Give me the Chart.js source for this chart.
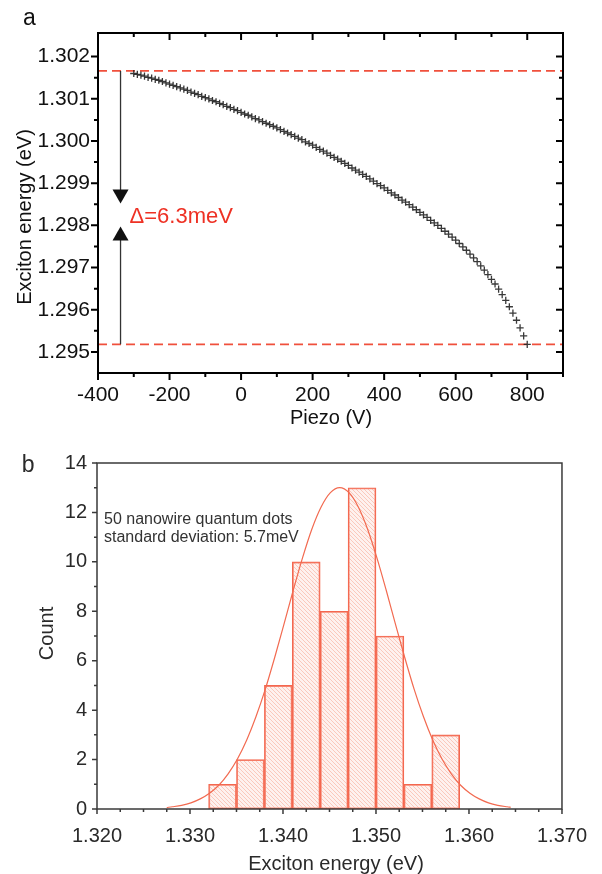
<!DOCTYPE html>
<html>
<head>
<meta charset="utf-8">
<script src="https://cdn.jsdelivr.net/npm/chart.js@4.4.1/dist/chart.umd.min.js"></script>
<style>
  body { margin: 0; background: #fff; }
  #wrap { position: relative; width: 602px; height: 874px; }
  canvas { position: absolute; left: 0; }
  #cA { top: 0; }
  #cB { top: 437px; }
</style>
</head>
<body>
<div id="wrap">
  <canvas id="cA" width="602" height="437"></canvas>
  <canvas id="cB" width="602" height="437"></canvas>
</div>
<script>
// ---- panel a : exciton energy vs piezo voltage ----
const piezoV = [
  -300,-290,-280,-270,-260,-250,-240,-230,-220,-210,
  -200,-190,-180,-170,-160,-150,-140,-130,-120,-110,
  -100,-90,-80,-70,-60,-50,-40,-30,-20,-10,
  0,10,20,30,40,50,60,70,80,90,
  100,110,120,130,140,150,160,170,180,190,
  200,210,220,230,240,250,260,270,280,290,
  300,310,320,330,340,350,360,370,380,390,
  400,410,420,430,440,450,460,470,480,490,
  500,510,520,530,540,550,560,570,580,590,
  600,610,620,630,640,650,660,670,680,690,
  700,710,720,730,740,750,760,770,780,790,
  800
];
const energyA = [
  1.30160,1.30158,1.30156,1.30154,1.30151,1.30149,1.30146,1.30144,1.30141,1.30138,
  1.30135,1.30132,1.30129,1.30126,1.30123,1.30120,1.30116,1.30113,1.30110,1.30106,
  1.30103,1.30100,1.30096,1.30093,1.30089,1.30086,1.30082,1.30079,1.30075,1.30072,
  1.30068,1.30064,1.30061,1.30057,1.30053,1.30050,1.30046,1.30042,1.30039,1.30035,
  1.30031,1.30027,1.30023,1.30019,1.30015,1.30011,1.30007,1.30003,1.29998,1.29994,
  1.29990,1.29985,1.29980,1.29976,1.29971,1.29966,1.29961,1.29957,1.29952,1.29947,
  1.29942,1.29936,1.29931,1.29926,1.29921,1.29916,1.29910,1.29905,1.29899,1.29894,
  1.29889,1.29883,1.29877,1.29872,1.29866,1.29860,1.29855,1.29849,1.29843,1.29837,
  1.29831,1.29825,1.29819,1.29812,1.29806,1.29800,1.29793,1.29786,1.29779,1.29772,
  1.29765,1.29757,1.29749,1.29741,1.29732,1.29723,1.29714,1.29704,1.29694,1.29683,
  1.29672,1.29661,1.29649,1.29636,1.29622,1.29607,1.29592,1.29575,1.29557,1.29538,
  1.29518
];
const levelTop = 1.30166;
const levelBottom = 1.29518;
const arrowV = -337;
const arrowDownTip = 1.29852;
const arrowUpTip = 1.29797;
const deltaText = 'Δ=6.3meV';

const xMajorA = [-400, -200, 0, 200, 400, 600, 800];
const xMinorA = [-300, -100, 100, 300, 500, 700, 900];
const yMajorA = [1.295, 1.296, 1.297, 1.298, 1.299, 1.300, 1.301, 1.302];
const yMinorA = [1.2955, 1.2965, 1.2975, 1.2985, 1.2995, 1.3005, 1.3015];

// ---- panel b : histogram of exciton energies ----
const binCenter = [1.3335, 1.3365, 1.3395, 1.3425, 1.3455, 1.3485, 1.3515, 1.3545, 1.3575];
const binCount = [1, 2, 5, 10, 8, 13, 7, 1, 3];
const fitE = [1.3275, 1.3281, 1.3291, 1.3301, 1.3311, 1.3321, 1.3331, 1.3341, 1.3351, 1.3361,
  1.3371, 1.3381, 1.3391, 1.3401, 1.3411, 1.3421, 1.3431, 1.3441, 1.3451, 1.3461,
  1.3471, 1.3481, 1.3491, 1.3501, 1.3511, 1.3521, 1.3531, 1.3541, 1.3551, 1.3561,
  1.3571, 1.3581, 1.3591, 1.3601, 1.3611, 1.3621, 1.3631, 1.3641, 1.3645];
const fitCount = [0.06, 0.09, 0.15, 0.25, 0.41, 0.64, 0.96, 1.42, 2.02, 2.79,
  3.74, 4.85, 6.12, 7.47, 8.85, 10.16, 11.32, 12.22, 12.80, 13.00,
  12.80, 12.22, 11.32, 10.16, 8.85, 7.47, 6.12, 4.85, 3.74, 2.79,
  2.02, 1.42, 0.96, 0.64, 0.41, 0.25, 0.15, 0.09, 0.07];
const noteLines = ['50 nanowire quantum dots', 'standard deviation: 5.7meV'];

const xMajorB = [1.32, 1.33, 1.34, 1.35, 1.36, 1.37];
const xMinorB = [1.3225, 1.325, 1.3275, 1.3325, 1.335, 1.3375, 1.3425, 1.345, 1.3475,
  1.3525, 1.355, 1.3575, 1.3625, 1.365, 1.3675];
const yMajorB = [0, 2, 4, 6, 8, 10, 12, 14];
const yMinorB = [1, 3, 5, 7, 9, 11, 13];

const FONT = "'Liberation Sans', Arial, Helvetica, sans-serif";

// frame, tick marks, axis titles and panel letter
const axesBox = {
  id: 'axesBox',
  afterDatasetsDraw(chart, args, o) {
    const ctx = chart.ctx, a = chart.chartArea;
    const sx = chart.scales.x, sy = chart.scales.y;
    ctx.save();
    ctx.strokeStyle = o.color;
    ctx.lineWidth = o.width;
    ctx.beginPath();
    const seg = (x1, y1, x2, y2) => { ctx.moveTo(x1, y1); ctx.lineTo(x2, y2); };
    const xt = (vals, len) => vals.forEach(v => {
      const p = sx.getPixelForValue(v);
      seg(p, a.bottom, p, a.bottom + len);
      if (o.mirror) seg(p, a.top, p, a.top + len);
    });
    const yt = (vals, len) => vals.forEach(v => {
      const p = sy.getPixelForValue(v);
      seg(a.left - len, p, a.left, p);
      if (o.mirror) seg(a.right - len, p, a.right, p);
    });
    xt(o.xMajor, o.major); xt(o.xMinor, o.minor);
    yt(o.yMajor, o.major); yt(o.yMinor, o.minor);
    ctx.stroke();
    ctx.strokeRect(a.left, a.top, a.right - a.left, a.bottom - a.top);

    ctx.fillStyle = o.textColor;
    ctx.font = '20px ' + FONT;
    ctx.textAlign = 'center';
    ctx.textBaseline = 'alphabetic';
    ctx.fillText(o.xTitle, o.xTitlePos[0], o.xTitlePos[1]);
    ctx.save();
    ctx.translate(o.yTitlePos[0], o.yTitlePos[1]);
    ctx.rotate(-Math.PI / 2);
    ctx.fillText(o.yTitle, 0, 0);
    ctx.restore();

    ctx.textAlign = 'left';
    ctx.font = '23px ' + FONT;
    ctx.fillText(o.letter, o.letterPos[0], o.letterPos[1]);
    ctx.restore();
  }
};

const arrowsA = {
  id: 'arrowsA',
  afterDatasetsDraw(chart) {
    const ctx = chart.ctx;
    const sx = chart.scales.x, sy = chart.scales.y;
    const x = sx.getPixelForValue(arrowV);
    const yTop = sy.getPixelForValue(levelTop);
    const yBot = sy.getPixelForValue(levelBottom);
    const yDown = sy.getPixelForValue(arrowDownTip);
    const yUp = sy.getPixelForValue(arrowUpTip);
    const head = (y, dir) => {
      ctx.beginPath();
      ctx.moveTo(x, y);
      ctx.lineTo(x - 8, y - dir * 14);
      ctx.lineTo(x + 8, y - dir * 14);
      ctx.closePath();
      ctx.fill();
    };
    ctx.save();
    ctx.strokeStyle = '#333';
    ctx.fillStyle = '#111';
    ctx.lineWidth = 1.3;
    ctx.beginPath();
    ctx.moveTo(x, yTop); ctx.lineTo(x, yDown - 12);
    ctx.moveTo(x, yBot); ctx.lineTo(x, yUp + 12);
    ctx.stroke();
    head(yDown, 1);
    head(yUp, -1);
    ctx.fillStyle = '#ee3124';
    ctx.font = '22px ' + FONT;
    ctx.textAlign = 'left';
    ctx.textBaseline = 'alphabetic';
    ctx.fillText(deltaText, x + 9, (yDown + yUp) / 2 + 8);
    ctx.restore();
  }
};

const notesB = {
  id: 'notesB',
  afterDatasetsDraw(chart) {
    const ctx = chart.ctx, a = chart.chartArea;
    ctx.save();
    ctx.fillStyle = '#333';
    ctx.font = '16px ' + FONT;
    ctx.textAlign = 'left';
    ctx.textBaseline = 'alphabetic';
    ctx.fillText(noteLines[0], a.left + 7, a.top + 61);
    ctx.fillText(noteLines[1], a.left + 7, a.top + 79);
    ctx.restore();
  }
};

// light salmon diagonal hatch for the histogram bars
function makeHatch() {
  const c = document.createElement('canvas');
  c.width = 4; c.height = 4;
  const g = c.getContext('2d');
  g.fillStyle = 'rgba(252,215,205,0.35)';
  g.fillRect(0, 0, 4, 4);
  g.strokeStyle = 'rgba(246,150,128,0.75)';
  g.lineWidth = 0.6;
  g.beginPath();
  g.moveTo(-1, -1); g.lineTo(5, 5);
  g.moveTo(-1, 3); g.lineTo(1, 5);
  g.moveTo(3, -1); g.lineTo(5, 1);
  g.stroke();
  return g.createPattern(c, 'repeat');
}

const hidden = { display: false, drawTicks: false };

new Chart(document.getElementById('cA'), {
  type: 'scatter',
  data: {
    datasets: [{
      data: piezoV.map((v, i) => ({ x: v, y: energyA[i] })),
      pointStyle: 'cross',
      pointRadius: 3.6,
      borderWidth: 1.3,
      borderColor: 'rgba(35,35,35,0.9)',
      showLine: false
    }, {
      data: [{ x: -400, y: levelTop }, { x: 900, y: levelTop }],
      showLine: true, pointRadius: 0,
      borderColor: '#f0503c', borderWidth: 1.8, borderDash: [9, 5]
    }, {
      data: [{ x: -400, y: levelBottom }, { x: 900, y: levelBottom }],
      showLine: true, pointRadius: 0,
      borderColor: '#f0503c', borderWidth: 1.8, borderDash: [9, 5]
    }]
  },
  options: {
    responsive: false,
    animation: false,
    devicePixelRatio: 1,
    layout: { padding: { top: 33, right: 39, left: 0, bottom: 0 } },
    plugins: {
      legend: { display: false },
      tooltip: { enabled: false },
      axesBox: {
        color: '#000', width: 2, mirror: true, major: 7, minor: 4,
        xMajor: xMajorA, xMinor: xMinorA, yMajor: yMajorA, yMinor: yMinorA,
        textColor: '#111',
        xTitle: 'Piezo (V)', xTitlePos: [331, 424],
        yTitle: 'Exciton energy (eV)', yTitlePos: [31, 217],
        letter: 'a', letterPos: [23, 25]
      }
    },
    scales: {
      x: {
        type: 'linear', min: -400, max: 900,
        grid: hidden, border: { display: false },
        afterBuildTicks: s => { s.ticks = xMajorA.map(v => ({ value: v })); },
        afterFit: s => { s.height = 64; },
        ticks: { autoSkip: false, maxRotation: 0, padding: 10, color: '#111',
          font: { family: FONT, size: 21 } }
      },
      y: {
        type: 'linear', min: 1.2945, max: 1.30256,
        grid: hidden, border: { display: false },
        afterBuildTicks: s => { s.ticks = yMajorA.map(v => ({ value: v })); },
        afterFit: s => { s.width = 98; },
        ticks: { autoSkip: false, padding: 8, color: '#111',
          font: { family: FONT, size: 21 },
          callback: v => v.toFixed(3) }
      }
    }
  },
  plugins: [axesBox, arrowsA]
});

new Chart(document.getElementById('cB'), {
  type: 'bar',
  data: {
    datasets: [{
      type: 'line',
      data: fitE.map((e, i) => ({ x: e, y: fitCount[i] })),
      borderColor: '#f26a50', borderWidth: 1.2,
      pointRadius: 0, fill: false,
      cubicInterpolationMode: 'monotone',
      order: 0
    }, {
      type: 'bar',
      data: binCenter.map((c, i) => ({ x: c, y: binCount[i] })),
      backgroundColor: makeHatch(),
      borderColor: '#f4674f', borderWidth: 1.2,
      borderSkipped: false,
      barPercentage: 1, categoryPercentage: 1,
      order: 1
    }]
  },
  options: {
    responsive: false,
    animation: false,
    devicePixelRatio: 1,
    layout: { padding: { top: 26, right: 39, left: 0, bottom: 0 } },
    plugins: {
      legend: { display: false },
      tooltip: { enabled: false },
      axesBox: {
        color: '#3a3a3a', width: 1.5, mirror: false, major: 5, minor: 3,
        xMajor: xMajorB, xMinor: xMinorB, yMajor: yMajorB, yMinor: yMinorB,
        textColor: '#2a2a2a',
        xTitle: 'Exciton energy (eV)', xTitlePos: [336, 433],
        yTitle: 'Count', yTitlePos: [52.6, 196.5],
        letter: 'b', letterPos: [21.7, 34.7]
      }
    },
    scales: {
      x: {
        type: 'linear', min: 1.32, max: 1.37, offset: false,
        grid: hidden, border: { display: false },
        afterBuildTicks: s => { s.ticks = xMajorB.map(v => ({ value: v })); },
        afterFit: s => { s.height = 65; },
        ticks: { autoSkip: false, maxRotation: 0, padding: 15, color: '#2a2a2a',
          font: { family: FONT, size: 20 },
          callback: v => v.toFixed(3) }
      },
      y: {
        type: 'linear', min: 0, max: 14,
        grid: hidden, border: { display: false },
        afterBuildTicks: s => { s.ticks = yMajorB.map(v => ({ value: v })); },
        afterFit: s => { s.width = 97; },
        ticks: { autoSkip: false, padding: 10, color: '#2a2a2a',
          font: { family: FONT, size: 20 } }
      }
    }
  },
  plugins: [axesBox, notesB]
});
</script>
</body>
</html>
